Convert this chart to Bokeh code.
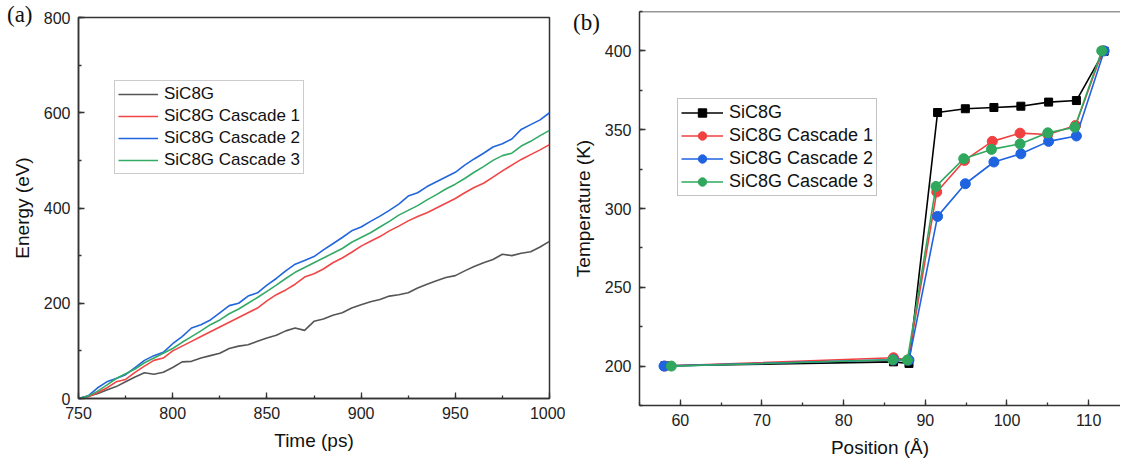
from bokeh.plotting import figure
from bokeh.layouts import row, column
from bokeh.models import Legend, LegendItem, Span, SingleIntervalTicker, Div
from bokeh.embed import file_html
from bokeh.resources import INLINE

# ---------------- data: panel (a) ----------------
time_ps = list(range(750, 1001, 5))
energy_sic8g = [0, 5, 10, 18, 25, 35, 45, 54, 51, 55, 65,
                77, 78, 85, 90, 95, 105, 110, 113, 120, 127,
                133, 142, 148, 143, 162, 167, 175, 180, 190, 197,
                203, 208, 215, 218, 222, 232, 240, 247, 254, 258,
                268, 277, 285, 292, 303, 300, 305, 308, 318, 330]
energy_c1 = [0, 3, 12, 22, 35, 40, 55, 68, 80, 85, 100,
             110, 120, 130, 140, 150, 160, 170, 180, 190, 205,
             218, 228, 240, 255, 262, 272, 285, 295, 307, 320,
             330, 340, 352, 362, 373, 382, 390, 400, 410, 420,
             432, 443, 452, 465, 478, 490, 502, 512, 522, 533]
energy_c2 = [0, 5, 22, 35, 42, 50, 65, 80, 90, 97, 115,
             130, 148, 155, 165, 180, 195, 200, 215, 222, 238,
             252, 268, 282, 290, 298, 312, 325, 338, 352, 360,
             372, 383, 395, 408, 425, 432, 445, 455, 465, 475,
             490, 503, 515, 528, 535, 545, 565, 575, 585, 600]
energy_c3 = [0, 5, 15, 28, 42, 52, 62, 75, 85, 95, 105,
             118, 130, 142, 155, 165, 178, 188, 200, 212, 225,
             238, 252, 265, 275, 285, 295, 305, 315, 328, 338,
             348, 360, 372, 385, 395, 405, 417, 428, 440, 450,
             462, 475, 487, 500, 510, 515, 530, 540, 552, 563]

# ---------------- data: panel (b) ----------------
pos_sic8g = [58.1, 86.1, 88.0, 91.5, 94.9, 98.4, 101.7, 105.1, 108.5, 111.9]
temp_sic8g = [200.2, 202.7, 201.7, 360.9, 363.3, 364.1, 364.9, 367.5, 368.5, 399.8]
pos_c1 = [58.1, 86.1, 87.9, 91.4, 94.8, 98.2, 101.6, 105.0, 108.4, 111.7]
temp_c1 = [200.0, 205.3, 204.0, 310.5, 330.5, 342.6, 347.8, 347.0, 352.7, 400.0]
pos_c2 = [58.0, 86.1, 88.0, 91.5, 94.9, 98.4, 101.7, 105.1, 108.5, 111.9]
temp_c2 = [200.0, 204.0, 203.8, 295.0, 315.7, 329.5, 334.7, 342.6, 346.0, 400.0]
pos_c3 = [58.9, 86.0, 87.8, 91.3, 94.7, 98.1, 101.6, 105.0, 108.3, 111.6]
temp_c3 = [200.0, 204.0, 203.8, 314.0, 331.6, 337.5, 341.0, 348.0, 351.6, 400.0]

labels = ["SiC8G", "SiC8G Cascade 1", "SiC8G Cascade 2", "SiC8G Cascade 3"]
panel_tags = ["(a)", "(b)"]

FONT = "Liberation Sans"
AX = "#333333"


def style(p):
    p.xgrid.visible = False
    p.ygrid.visible = False
    p.background_fill_color = "white"
    p.border_fill_color = "white"
    for ax in (p.xaxis[0], p.yaxis[0]):
        ax.major_tick_in = 6
        ax.major_tick_out = 0
        ax.minor_tick_in = 3
        ax.minor_tick_out = 0
        ax.axis_line_color = AX
        ax.axis_line_width = 1.5
        ax.major_tick_line_color = AX
        ax.major_tick_line_width = 1.3
        ax.minor_tick_line_color = AX
        ax.minor_tick_line_width = 1.3
        ax.major_label_text_font = FONT
        ax.major_label_text_font_size = "16px"
        ax.major_label_text_color = "#222222"
        ax.major_label_standoff = 8
        ax.axis_label_text_font = FONT
        ax.axis_label_text_font_size = "19px"
        ax.axis_label_text_font_style = "normal"
        ax.axis_label_text_color = "#111111"
        ax.axis_label_standoff = 8


def tag(text, left, top):
    return Div(text=text, width=36, height=28, margin=0,
               styles={"position": "absolute", "left": f"{left}px", "top": f"{top}px",
                       "font-family": "Liberation Serif", "font-size": "23px",
                       "line-height": "26px", "color": "#111111", "z-index": "10"})


# ---------------- panel (a) ----------------
p1 = figure(width=565, height=461, x_range=(750, 1000), y_range=(0, 800),
            output_backend="svg", toolbar_location=None,
            min_border_left=78, min_border_right=16, min_border_top=17, min_border_bottom=63,
            x_axis_label="Time (ps)", y_axis_label="Energy (eV)")
style(p1)
p1.outline_line_color = AX
p1.outline_line_width = 1.5
p1.xaxis.ticker = SingleIntervalTicker(interval=50, num_minor_ticks=2)
p1.yaxis.ticker = SingleIntervalTicker(interval=200, num_minor_ticks=2)

cols_a = ["#555555", "#f24545", "#2266dd", "#33aa66"]
series_a = [energy_sic8g, energy_c1, energy_c2, energy_c3]
items_a = []
for lab, ys, c in zip(labels, series_a, cols_a):
    r = p1.line(time_ps, ys, line_color=c, line_width=1.6)
    items_a.append(LegendItem(label=lab, renderers=[r]))

leg_a = Legend(items=items_a, location=(36, 224), orientation="vertical",
               glyph_width=40, glyph_height=20, label_height=20, spacing=2,
               padding=3, margin=0, label_standoff=6,
               label_text_font=FONT, label_text_font_size="17px", label_text_color="#111111",
               border_line_color="#999999", border_line_width=1,
               background_fill_color="white", background_fill_alpha=1)
p1.add_layout(leg_a, "center")

# ---------------- panel (b) ----------------
p2 = figure(width=555, height=461, x_range=(55, 113.9), y_range=(175, 425),
            output_backend="svg", toolbar_location=None,
            min_border_left=74, min_border_right=0, min_border_top=11, min_border_bottom=56,
            x_axis_label="Position (Å)", y_axis_label="Temperature (K)")
style(p2)
p2.outline_line_color = None
p2.add_layout(Span(location=425, dimension="width", line_color=AX, line_width=1.5))
p2.xaxis.ticker = SingleIntervalTicker(interval=10, num_minor_ticks=2)
p2.yaxis.ticker = SingleIntervalTicker(interval=50, num_minor_ticks=2)

cols_b = ["#000000", "#f04040", "#1f63e0", "#2fa85e"]
series_b = [(pos_sic8g, temp_sic8g), (pos_c1, temp_c1), (pos_c2, temp_c2), (pos_c3, temp_c3)]
items_b = []
for i, (lab, (xs, ys), c) in enumerate(zip(labels, series_b, cols_b)):
    rl = p2.line(xs, ys, line_color=c, line_width=1.6)
    if i == 0:
        rm = p2.scatter(xs, ys, marker="square", size=8, fill_color=c, line_color=c)
    else:
        rm = p2.scatter(xs, ys, marker="circle", size=10, fill_color=c, line_color=c)
    items_b.append(LegendItem(label=lab, renderers=[rl, rm]))

leg_b = Legend(items=items_b, location=(38, 209), orientation="vertical",
               glyph_width=42, glyph_height=21, label_height=21, spacing=2,
               padding=3, margin=0, label_standoff=6,
               label_text_font=FONT, label_text_font_size="18px", label_text_color="#111111",
               border_line_color="#888888", border_line_width=1,
               background_fill_color="white", background_fill_alpha=1)
p2.add_layout(leg_b, "center")

layout = row(column(p1), column(p2), tag(panel_tags[0], 7, 2), tag(panel_tags[1], 573, 10),
             spacing=0)
open("out.html", "w").write(file_html(layout, INLINE))
